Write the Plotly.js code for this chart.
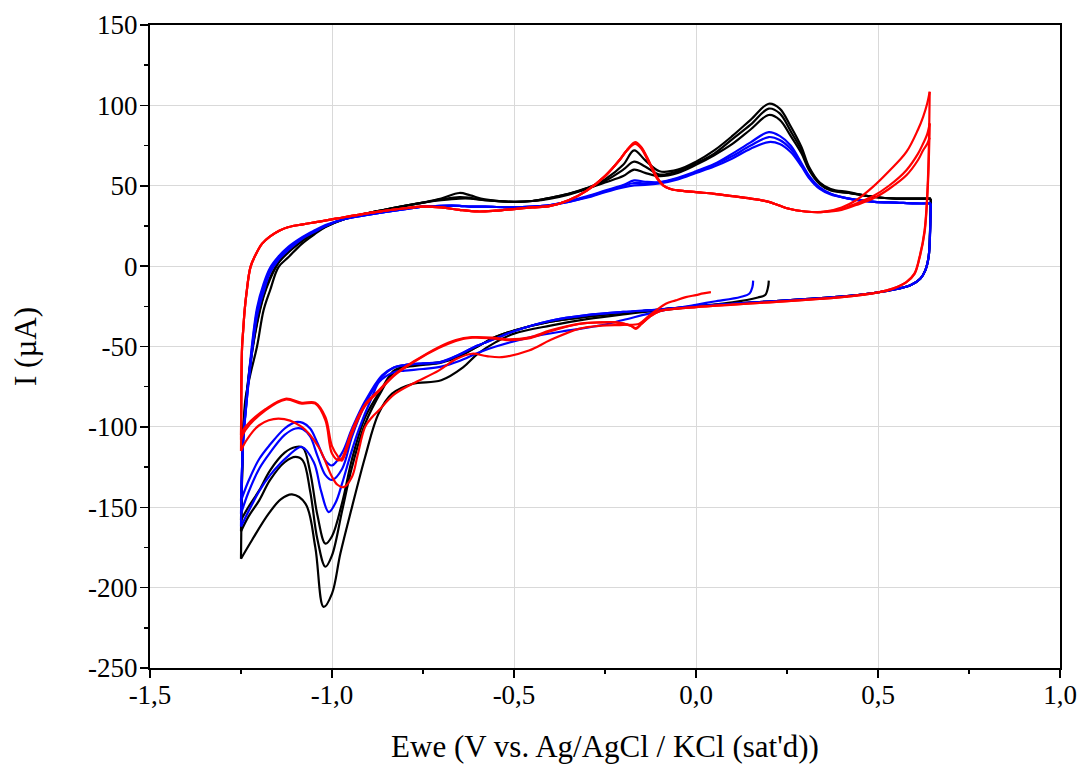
<!DOCTYPE html>
<html><head><meta charset="utf-8">
<script src="https://cdn.plot.ly/plotly-3.0.1.min.js"></script>
<style>html,body{margin:0;padding:0;background:#fff}#chart{width:1078px;height:765px}</style>
</head><body><div id="chart"></div>
<script>
// ---- anodic (upper) branch potential grid, black & blue (V) ----
const upE = [-1.25,-1.247,-1.243,-1.238,-1.225,-1.206,-1.188,-1.17,-1.147,-1.12,-1.082,-1.05,-1.018,-0.963,-0.9,-0.8,-0.75,-0.7,-0.65,-0.62,-0.58,-0.5,-0.45,-0.4,-0.35,-0.3,-0.25,-0.2,-0.17,-0.14,-0.1,-0.05,0,0.05,0.1,0.15,0.2,0.23,0.26,0.29,0.31,0.34,0.37,0.42,0.49,0.55,0.6,0.645];
// ---- cathodic (lower) branch potential grid, black & blue (V) ----
const loE = [0.645,0.643,0.639,0.63,0.616,0.589,0.534,0.488,0.4,0.3,0.2,0.1,0,-0.1,-0.2,-0.3,-0.4,-0.5,-0.55,-0.6,-0.65,-0.7,-0.75,-0.8,-0.83,-0.863,-0.909,-0.945,-0.972,-1.0,-1.018,-1.04,-1.06,-1.08,-1.1,-1.13,-1.17,-1.2,-1.23,-1.25];

// ---- black series (µA) ----
const blackLo1E = [0.2,0.198,0.19,0.17,0.1,0,-0.1,-0.2,-0.3,-0.4,-0.5,-0.55,-0.6,-0.64,-0.7,-0.78,-0.835,-0.872,-0.909,-0.945,-0.977,-1.0,-1.023,-1.046,-1.073,-1.11,-1.14,-1.174,-1.22,-1.25];
const blackLo1 = [-9,-13,-18,-19.5,-22.5,-25,-27.5,-30,-33,-37,-42,-47.3,-54.6,-63,-71,-73.3,-79.3,-91.7,-118.7,-149.8,-178.8,-203.7,-212,-174.7,-147.7,-142,-145,-154,-170.5,-182];
const blackUp1 = [-182,-130,-100,-83,-68,-50,-27.5,-15,-0.6,5.5,14,19.5,24.3,29.5,33,37.5,39.5,42,45.5,44,41.5,40,40.5,42.5,45,48.5,54,63,72,66,59,60,65,72,81,91,101,98,87,74,62,52,48,46,43,42,42,42];
const blackLo2 = [42,22,5.7,-2.6,-7.8,-11.9,-15,-16.7,-19,-20.5,-22,-23.5,-25,-27,-29,-31.5,-34.5,-40,-44,-50,-56,-60,-61.5,-63,-66,-77.3,-98,-125,-152,-180,-187,-170,-140,-121,-118.7,-122,-133,-145.7,-156,-165];
const blackUp2 = [-165,-130,-100,-88,-62,-36,-19,-8,2,8.5,15.5,20.5,24.5,29.5,33,37.5,39.5,41.5,43,42.5,41,40,40.5,42.5,45,48.5,53,60,65,62,57,59,64,70,79,88,98,95,84,72,61,51.5,47.5,45.5,43,42,42,42];
const blackLo3 = [42,22,5.7,-2.6,-7.8,-11.9,-15,-16.7,-19,-20.5,-22,-23.5,-25,-27,-29,-31.5,-34.5,-40,-44,-50,-56,-59.5,-61,-62.5,-65,-76,-94,-120,-147,-168,-172.6,-155,-128,-113,-112.5,-116,-127,-139.5,-150,-158];
const blackUp3 = [-158,-128,-98,-87,-61,-35,-18,-7,2.5,9,16,21,25,29.5,33,37.5,39.5,41,42,42,41,40,40.5,42,44.5,48,52,56,60,58,56,58,63,69,76,85,94,91,81,70,60,51,47,45.5,43,42,42,42];

// ---- blue series (µA) ----
const blueLo1E = [0.157,0.155,0.147,0.122,0.05,0,-0.1,-0.2,-0.26,-0.35,-0.45,-0.55,-0.6,-0.65,-0.7,-0.75,-0.8,-0.83,-0.87,-0.89,-0.927,-0.95,-0.972,-0.99,-1.009,-1.03,-1.05,-1.083,-1.12,-1.17,-1.2,-1.25];
const blueLo1 = [-9,-13,-17,-19.2,-22,-24,-28,-33.5,-36.8,-40,-44,-50,-54,-59,-62.5,-64,-65,-66,-72,-81.4,-102,-118,-135,-147,-153,-140,-122,-112.5,-118,-130,-140,-162];
const blueUp1 = [-162,-125,-105,-92,-64,-31,-16,-4,4,10,17,21,25,29.5,32,35.5,37,37.5,37.5,37,37,36.5,37,38,40.5,43.5,47,50.5,53.3,52.5,52.3,55,59,63.5,70,77,83.4,81,75,64,56.5,49,45,42,40,39.5,39,39];
const blueLo2 = [39,20,5.7,-2.6,-7.8,-11.9,-15,-16.7,-19,-20.5,-22,-23.5,-25,-27,-28.5,-30.5,-34,-40.5,-45,-49.4,-55,-59.8,-60.5,-61.5,-63,-69,-86,-106,-126,-133,-130,-118,-106,-101.5,-101,-105,-116,-126,-141,-154];
const blueUp2 = [-154,-125,-105,-93,-62,-28,-13,-2,5,11,17.5,21.5,25,29.5,32,35.5,37,37.5,37.5,37,37,36.5,37,38,40,43,46.5,50,51.7,51.5,52,54.5,58.5,63,68.5,75,80.3,78.5,73,63,55.5,48.5,45,42,40,39.5,39,39];
const blueLo3 = [39,20,5.7,-2.6,-7.8,-11.9,-15,-16.7,-19,-20.5,-22,-23.5,-25,-27,-28.5,-30.5,-34,-40.5,-45,-49.4,-55,-59.5,-60.5,-61.5,-63,-68,-84,-101,-116,-124,-121,-110,-101,-97.5,-97,-101,-111,-120,-134,-146];
const blueUp3 = [-146,-125,-104,-92,-60,-26,-11,-1,6,12,18,22,25.5,29.5,32,35.5,37,37.5,37.5,37,37,36.5,37,38,40,42.5,46,49,50.2,50.5,51.5,54,58,62,67,73,77.2,76,71,62,55,48,44.5,42,40,39.5,39,39];

// ---- red series (µA) ----
const redUpE = [-1.25,-1.249,-1.247,-1.244,-1.24,-1.235,-1.224,-1.21,-1.192,-1.17,-1.145,-1.119,-1.08,-1.04,-0.99,-0.9,-0.8,-0.75,-0.7,-0.65,-0.6,-0.55,-0.5,-0.45,-0.4,-0.35,-0.3,-0.25,-0.21,-0.19,-0.167,-0.15,-0.135,-0.12,-0.107,-0.089,-0.07,-0.05,0,0.05,0.1,0.15,0.2,0.25,0.3,0.35,0.4,0.44,0.486,0.53,0.578,0.61,0.624,0.635,0.642];
const redLoE = [0.642,0.637,0.628,0.614,0.6,0.578,0.541,0.504,0.4,0.3,0.2,0.1,0,-0.1,-0.13,-0.15,-0.165,-0.18,-0.22,-0.26,-0.322,-0.4,-0.46,-0.52,-0.56,-0.615,-0.66,-0.707,-0.771,-0.826,-0.872,-0.909,-0.945,-0.973,-0.982,-1.0,-1.018,-1.046,-1.083,-1.128,-1.183,-1.238,-1.25];
const redLo1E = [0.041,0.02,0,-0.028,-0.056,-0.083,-0.11,-0.135,-0.156,-0.2,-0.26,-0.322,-0.4,-0.459,-0.533,-0.575,-0.615,-0.66,-0.707,-0.78,-0.83,-0.872,-0.89,-0.909,-0.93,-0.945,-0.968,-0.985,-1.0,-1.037,-1.083,-1.147,-1.2,-1.238,-1.25];
const redLo1 = [-16.2,-17,-18,-19.3,-21.3,-23.4,-27.6,-32,-35.8,-36.5,-37,-39,-46,-52.5,-56.6,-56,-54.5,-58,-65,-73.3,-80,-89.9,-94,-100,-118,-131,-137.5,-136,-131,-112.5,-100,-94.9,-99,-109.4,-115];
const redUp1 = [-115,-75,-50,-40,-27.5,-17,-0.6,7,14,18.5,22,24.3,26,27.5,29.5,33,36,37,36.5,35,34,34.5,35.5,36.5,37.5,41,47,56,66,72,77.2,74,68,61,55.4,50,48,47.1,46,45,43.5,42,40,36,34,33.7,36.5,41,49.3,59,71,85,92.9,101,108.5];
const redLo2 = [108.5,53.4,22.3,5.6,-4.7,-9.9,-14,-16.2,-19.3,-21,-22.5,-24,-25.5,-28,-32,-36,-39,-37,-35,-35,-35.9,-40,-44.5,-45.5,-44.5,-44.2,-46,-50.4,-58.7,-67,-77.4,-86,-102.1,-119.7,-120.8,-116.6,-95.9,-85.5,-85.5,-83,-89.7,-102,-108];
const redUp2 = [-108,-75,-50,-40,-27.5,-17,-0.6,7,14,18.5,22,24.3,26,27.5,29.5,33,36,37,36.5,35,34,34.5,35.5,36.5,37.5,41,47,56,66,72,76.5,73.5,67.5,60.5,55,50,48,47.1,46,45,43.5,42,40,36,34,33.7,35.5,39,43.5,50,59.7,70,76.3,82,88.8];
const redLo3 = [88.8,50,21,5,-5,-10,-14,-16.2,-19.3,-21,-22.5,-24,-25.5,-28,-32,-36,-38.5,-37,-35,-35,-36,-40.5,-45,-46,-45,-44.5,-46.5,-51,-59,-67.5,-78,-87,-104,-121,-119,-112,-94,-85,-85,-82.5,-89,-100,-105];
const redUp3 = [-105,-75,-50,-40,-27.5,-17,-0.6,7,14,18.5,22,24.3,26,27.5,29.5,33,36,37,36.5,35,34,34.5,35.5,36.5,37.5,41,47,56,66,72,76,73,67,60,54.5,50,48,47.1,46,45,43.5,42,40,36,34,33.7,35,38,42,48,56.5,66,72.1,76,80];

// ---- axis ticks ----
const xTickVals = [-1.5,-1.0,-0.5,0,0.5,1.0];
const xTickText = ['-1,5','-1,0','-0,5','0,0','0,5','1,0'];
const xMinorVals = [-1.25,-0.75,-0.25,0.25,0.75];
const yTickVals = [-250,-200,-150,-100,-50,0,50,100,150];
const yTickText = ['-250','-200','-150','-100','-50','0','50','100','150'];
const yMinorVals = [-225,-175,-125,-75,-25,25,75,125];

function tr(x, y, color) {
  return {x: x, y: y, type: 'scatter', mode: 'lines', hoverinfo: 'skip', showlegend: false,
    line: {color: color, width: 2.2, shape: 'spline', smoothing: 1}};
}
const BLACK = '#000000', BLUE = '#0000ff', RED = '#ff0000';
const data = [
  tr(blackLo1E, blackLo1, BLACK), tr(upE, blackUp1, BLACK),
  tr(loE, blackLo2, BLACK), tr(upE, blackUp2, BLACK),
  tr(loE, blackLo3, BLACK), tr(upE, blackUp3, BLACK),
  tr(blueLo1E, blueLo1, BLUE), tr(upE, blueUp1, BLUE),
  tr(loE, blueLo2, BLUE), tr(upE, blueUp2, BLUE),
  tr(loE, blueLo3, BLUE), tr(upE, blueUp3, BLUE),
  tr(redLo1E, redLo1, RED), tr(redUpE, redUp1, RED),
  tr(redLoE, redLo2, RED), tr(redUpE, redUp2, RED),
  tr(redLoE, redLo3, RED), tr(redUpE, redUp3, RED),
  // empty trace that carries the minor-tick axes
  {x: [], y: [], xaxis: 'x2', yaxis: 'y2', type: 'scatter', mode: 'lines', showlegend: false, hoverinfo: 'skip'}
];

const serif = '"Liberation Serif", "Times New Roman", serif';
const layout = {
  width: 1078, height: 765,
  margin: {l: 150, r: 18, t: 25, b: 97},
  paper_bgcolor: '#ffffff', plot_bgcolor: '#ffffff',
  showlegend: false,
  font: {family: serif, color: '#000', size: 27},
  xaxis: {
    range: [-1.5, 1.0], tickmode: 'array', tickvals: xTickVals, ticktext: xTickText,
    ticks: 'outside', ticklen: 8, tickwidth: 1.5, tickcolor: '#000', ticklabelstandoff: -6,
    showline: true, linewidth: 2, linecolor: '#000', mirror: true,
    showgrid: true, gridcolor: '#d9d9d9', zeroline: false,
    tickfont: {family: serif, size: 27, color: '#000'},
    title: {text: "Ewe (V vs. Ag/AgCl / KCl (sat'd))", font: {family: serif, size: 31, color: '#000'}, standoff: 26},
    automargin: false
  },
  yaxis: {
    range: [-250, 150], tickmode: 'array', tickvals: yTickVals, ticktext: yTickText,
    ticks: 'outside', ticklen: 8, tickwidth: 1.5, tickcolor: '#000', ticklabelstandoff: -3,
    showline: true, linewidth: 2, linecolor: '#000', mirror: true,
    showgrid: true, gridcolor: '#d9d9d9', zeroline: false,
    tickfont: {family: serif, size: 27, color: '#000'},
    title: {text: 'I (µA)', font: {family: serif, size: 31, color: '#000'}, standoff: 42},
    automargin: false
  },
  xaxis2: {
    overlaying: 'x', anchor: 'y2', side: 'bottom', range: [-1.5, 1.0],
    tickmode: 'array', tickvals: xMinorVals, ticks: 'outside', ticklen: 5, tickwidth: 1.5, tickcolor: '#000',
    showticklabels: false, showgrid: false, zeroline: false, showline: false, automargin: false
  },
  yaxis2: {
    overlaying: 'y', anchor: 'x2', side: 'left', range: [-250, 150],
    tickmode: 'array', tickvals: yMinorVals, ticks: 'outside', ticklen: 5, tickwidth: 1.5, tickcolor: '#000',
    showticklabels: false, showgrid: false, zeroline: false, showline: false, automargin: false
  }
};
Plotly.newPlot('chart', data, layout, {displayModeBar: false, staticPlot: true});
</script>
</body></html>
